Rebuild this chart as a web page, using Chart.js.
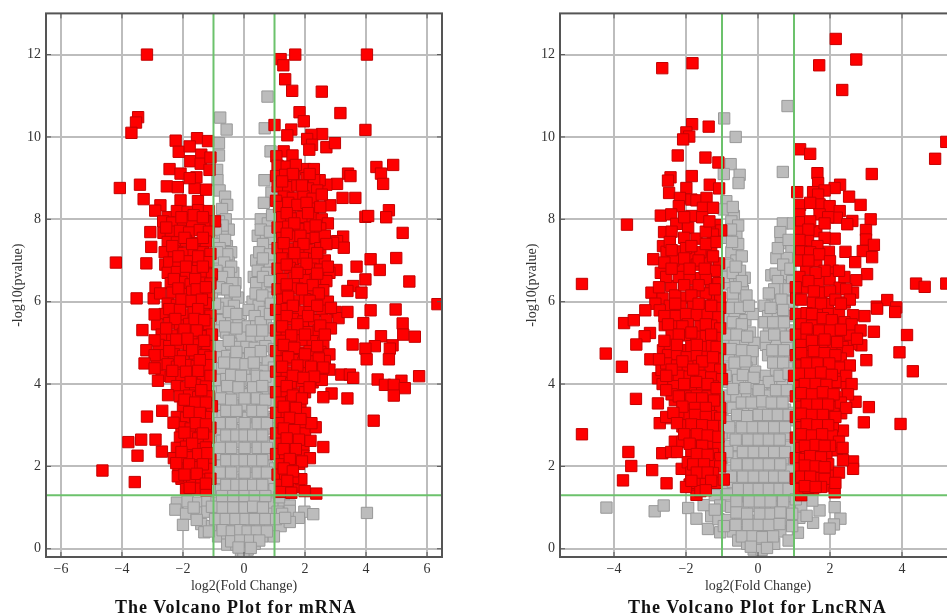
<!DOCTYPE html>
<html>
<head>
<meta charset="utf-8">
<title>Volcano plots</title>
<script src="https://cdn.jsdelivr.net/npm/chart.js@4"></script>
<style>
  html, body { margin: 0; padding: 0; background: #fff; overflow: hidden; width: 947px; height: 616px; }
  .plot { position: absolute; top: 0; width: 460px; height: 616px; }
  #mrnaPlot { left: 0; }
  #lncPlot { left: 514px; }
  .caption { position: absolute; top: 597px; font: bold 18px/20px 'Liberation Serif'; letter-spacing: 1px; color: #111; white-space: nowrap; }
  #mrnaCaption { left: 115px; }
  #lncCaption { left: 628px; }
</style>
</head>
<body>
<div class="plot" id="mrnaPlot"><canvas id="mrnaChart" width="460" height="616"></canvas></div>
<div class="plot" id="lncPlot"><canvas id="lncChart" width="460" height="616"></canvas></div>
<div class="caption" id="mrnaCaption">The Volcano Plot for mRNA</div>
<div class="caption" id="lncCaption">The Volcano Plot for LncRNA</div>
<script>
// tick labels and cut-offs
const mrnaXTicks = [-6, -4, -2, 0, 2, 4, 6];
const lncXTicks = [-4, -2, 0, 2, 4];
const yTicks = [0, 2, 4, 6, 8, 10, 12];
const foldCut = [-1, 1];
const pCut = 1.3;

// values, [log2 fold change, -log10 p]
const mrnaDown = [
[-3.18,12],[-3.47,10.48],[-3.54,10.35],[-3.69,10.1],[-4.07,8.76],[-3.41,8.84],[-3.29,8.49],[-2.74,8.34],[-2.91,8.21],[-3.07,7.69],[-3.04,7.33],[-4.2,6.95],[-3.2,6.93],[-3.52,6.08],[-2.96,6.08],[-2.9,6.34],[-2.58,6.9],[-2.64,7.67],
[-2.24,9.91],[-2.14,9.64],[-1.54,9.97],[-1.18,9.9],[-1.78,9.77],[-2.44,9.22],[-2.08,9.11],[-2.53,8.8],[-2.17,8.78],[-1.62,8.76],[-1.24,8.72],[-2.08,8.46],[-1.51,8.44],[-1.76,9.41],[-1.4,9.57],[-1.42,9.35],[-1.56,9.02],[-1.13,9.2],[-1.78,9.0],[-1.1,9.5],
[-2.5,8.05],[-2.2,8.2],[-1.85,8.18],[-1.5,8.22],[-1.15,8.2],[-0.95,7.95],[-2.65,7.95],[-2.35,7.92],[-2.0,7.98],[-1.7,7.94],[-1.3,7.96],[-2.4,7.7],[-2.1,7.72],[-1.8,7.68],[-1.45,7.74],[-1.15,7.7],
[-2.5,7.45],[-2.2,7.44],[-1.9,7.48],[-1.55,7.42],[-1.25,7.46],[-2.6,7.2],[-2.3,7.22],[-2.0,7.18],[-1.65,7.24],[-1.35,7.2],[-1.1,7.16],[-2.45,6.95],[-2.15,6.92],[-1.8,6.98],[-1.5,6.94],[-1.2,6.96],
[-2.5,6.7],[-2.2,6.72],[-1.9,6.68],[-1.6,6.74],[-1.25,6.7],[-1.05,6.66],[-2.4,6.45],[-2.05,6.48],[-1.75,6.42],[-1.4,6.46],[-1.1,6.44],[-2.75,6.2],[-2.35,6.22],[-2.0,6.18],[-1.7,6.24],[-1.35,6.2],[-1.15,6.16],
[-2.5,5.95],[-2.2,5.92],[-1.9,5.98],[-1.55,5.94],[-1.25,5.96],[-2.6,5.7],[-2.3,5.72],[-1.95,5.68],[-1.65,5.74],[-1.3,5.7],[-1.1,5.66],[-2.85,5.45],[-2.45,5.48],[-2.1,5.42],[-1.8,5.46],[-1.45,5.44],[-1.15,5.46],
[-2.7,5.2],[-2.35,5.18],[-2.0,5.22],[-1.7,5.2],[-1.35,5.16],[-1.05,5.2],[-2.8,4.95],[-2.45,4.92],[-2.15,4.98],[-1.8,4.94],[-1.5,4.96],[-1.2,4.92],[-2.65,4.7],[-2.3,4.72],[-2.0,4.68],[-1.6,4.74],[-1.3,4.7],[-1.1,4.66],
[-2.85,4.45],[-2.5,4.48],[-2.2,4.42],[-1.85,4.46],[-1.55,4.44],[-1.2,4.46],[-2.7,4.2],[-2.4,4.18],[-2.05,4.22],[-1.7,4.2],[-1.35,4.16],[-1.1,4.2],[-2.2,3.95],[-1.9,3.92],[-1.6,3.98],[-1.25,3.94],[-2.1,3.7],[-1.8,3.72],[-1.5,3.68],[-1.15,3.7],
[-2.0,3.45],[-1.7,3.48],[-1.35,3.42],[-1.05,3.46],[-2.2,3.2],[-1.9,3.18],[-1.6,3.22],[-1.25,3.2],[-2.05,2.95],[-1.75,2.92],[-1.4,2.98],[-1.1,2.94],[-2.1,2.7],[-1.8,2.72],[-1.5,2.68],[-1.15,2.7],
[-2.2,2.45],[-1.9,2.48],[-1.55,2.42],[-1.25,2.46],[-2.3,2.2],[-2,2.18],[-1.7,2.22],[-1.35,2.2],[-1.1,2.16],[-2.15,1.95],[-1.85,1.92],[-1.5,1.98],[-1.2,1.94],[-2.05,1.7],[-1.7,1.72],[-1.4,1.68],[-1.1,1.7],[-1.9,1.45],[-1.55,1.46],[-1.25,1.42],
[-3.33,5.31],[-2.93,5.69],[-2.93,5.06],[-3.2,4.82],[-2.93,4.7],[-3.26,4.5],[-2.93,4.38],[-2.82,4.08],[-2.49,3.73],[-2.68,3.35],[-3.18,3.21],[-2.31,3.06],[-3.79,2.59],[-3.37,2.65],[-2.9,2.65],[-2.69,2.36],[-3.49,2.26],[-4.64,1.9],[-3.58,1.62],[-2.22,2.08],[-1.78,1.48],[-2.17,1.76],
[-2.05,8.05],[-1.65,8.1],[-1.35,8.05],[-2.55,7.8],[-1.95,7.55],[-1.35,7.55],[-2.35,7.35],[-1.7,7.4],[-2.15,7.1],[-1.5,7.1],[-1.9,6.85],[-1.35,6.85],[-2.3,6.55],[-1.6,6.55],[-2.15,6.32],[-1.55,6.3],[-1.25,6.35],[-2.05,6.05],[-1.72,6.02],[-1.38,6.05],[-2.45,5.82],[-2.1,5.8],[-1.5,5.82],[-2.25,5.58],[-1.62,5.58],[-1.3,5.55],[-2.55,5.35],[-1.95,5.32],[-1.55,5.3],[-2.22,5.08],[-1.85,5.1],[-1.3,5.05],[-2.45,4.8],[-1.7,4.82],[-2.1,4.55],[-1.45,4.58],[-2.35,4.32],[-1.9,4.3],[-1.5,4.32],[-1.75,4.05],[-1.4,3.85],[-1.95,3.62],[-1.6,3.55],[-1.25,3.55],[-1.8,3.32],[-1.45,3.3],[-1.58,3.05],[-1.25,3.02],[-1.95,2.82],[-1.35,2.8],[-1.7,2.55],[-2.05,2.35],[-1.5,2.3],[-1.2,2.32],[-1.8,2.05],[-1.35,2.05],[-1.95,1.8],[-1.55,1.82],[-1.25,1.58]
];
const mrnaUp = [
[1.2,11.89],[1.29,11.74],[1.68,12],[4.03,12],[1.35,11.4],[1.58,11.12],[2.55,11.1],[1.82,10.6],[1.96,10.38],[3.16,10.58],[1.0,10.29],[1.55,10.18],[1.42,10.04],[3.98,10.17],[2.56,10.07],[2.21,10.05],[2.07,9.95],[2.23,9.81],[2.14,9.69],[2.7,9.75],[2.98,9.85],[1.3,9.65],[1.59,9.55],[1.06,9.53],
[4.34,9.27],[4.89,9.32],[4.49,9.11],[4.56,8.86],[3.41,9.11],[3.49,9.05],[3.05,8.86],[2.7,8.84],[2.48,8.95],[1.99,9.22],[2.29,9.22],[3.23,8.52],[3.65,8.52],[2.83,8.34],[4.75,8.22],[4.66,8.05],[3.98,8.06],[4.07,8.08],[5.2,7.67],[3.25,7.58],[3.05,7.47],[3.27,7.31],[2.92,7.43],[4.15,7.03],[4.99,7.06],[4.45,6.77],[3.69,6.85],[3.03,6.77],[5.42,6.49],[3.98,6.54],[3.58,6.38],[3.39,6.26],[3.85,6.22],[6.34,5.94],
[1.1,9.3],[1.4,9.28],[1.7,9.32],[1.05,9.05],[1.35,9.08],[1.65,9.02],[2.05,9.0],[2.3,8.95],[1.1,8.8],[1.45,8.78],[1.75,8.82],[2.1,8.75],[2.4,8.7],[1.3,8.55],[1.6,8.52],[1.95,8.56],[2.25,8.5],[1.05,8.45],
[1.15,8.3],[1.5,8.28],[1.95,8.3],[2.25,8.26],[1.25,8.05],[1.55,8.02],[1.9,8.06],[2.25,8.04],[2.55,8.0],[2.75,7.9],[1.1,7.8],[1.45,7.82],[1.8,7.76],[2.15,7.8],[2.5,7.78],[1.25,7.55],[1.6,7.58],[2.05,7.52],[2.35,7.55],[2.65,7.6],
[1.1,7.3],[1.45,7.28],[1.8,7.32],[2.15,7.26],[2.5,7.3],[1.25,7.05],[1.6,7.02],[1.95,7.06],[2.3,7.04],[2.65,7.0],[1.1,6.8],[1.5,6.82],[1.85,6.76],[2.2,6.8],[2.5,6.78],[2.8,6.7],[1.25,6.55],[1.65,6.58],[2.0,6.52],[2.35,6.55],[2.7,6.5],
[1.1,6.3],[1.4,6.28],[1.75,6.32],[2.1,6.26],[2.6,6.28],[1.25,6.05],[1.65,6.02],[2.0,6.06],[2.35,6.04],[2.75,6.0],[1.05,5.8],[1.4,5.82],[1.8,5.76],[2.15,5.8],[2.55,5.78],[3.0,5.75],[1.2,5.55],[1.6,5.58],[1.95,5.52],[2.3,5.55],[2.7,5.56],[3.1,5.6],
[1.05,5.3],[1.4,5.28],[1.75,5.32],[2.1,5.26],[2.45,5.3],[2.85,5.35],[1.2,5.05],[1.55,5.02],[1.9,5.06],[2.25,5.04],[2.6,5.0],[1.05,4.8],[1.4,4.82],[1.8,4.76],[2.15,4.8],[2.5,4.78],[2.8,4.72],[1.2,4.55],[1.6,4.58],[1.95,4.52],[2.3,4.55],[2.65,4.56],
[1.05,4.3],[1.4,4.28],[1.75,4.32],[2.1,4.26],[2.45,4.3],[2.8,4.35],[1.2,4.05],[1.55,4.02],[1.9,4.06],[2.25,4.04],[2.55,4.1],[1.05,3.8],[1.4,3.82],[1.75,3.76],[2.0,3.8],[1.2,3.55],[1.55,3.58],[1.85,3.52],[1.05,3.3],[1.4,3.28],[1.7,3.32],[2.0,3.3],
[1.2,3.05],[1.55,3.02],[1.9,3.06],[1.05,2.8],[1.4,2.82],[1.75,2.76],[2.0,2.8],[1.2,2.55],[1.5,2.58],[1.95,2.52],[1.05,2.3],[1.35,2.28],[1.65,2.32],[1.95,2.26],[1.2,2.05],[1.5,2.02],[1.8,2.06],[1.1,1.8],[1.35,1.82],[1.2,1.55],[1.5,1.58],[1.8,1.5],[1.2,1.38],[1.55,1.36],
[4.15,5.79],[4.97,5.81],[3.39,5.75],[3.91,5.48],[5.2,5.47],[5.22,5.2],[5.6,5.15],[4.49,5.16],[4.87,4.94],[4.29,4.92],[4.78,4.86],[3.56,4.96],[3.98,4.86],[4.02,4.6],[4.75,4.6],[3.19,4.23],[3.47,4.23],[3.58,4.15],[5.74,4.19],[4.38,4.11],[5.16,4.08],[4.62,3.98],[4.91,3.98],[5.27,3.9],[4.91,3.72],[2.87,3.77],[2.6,3.68],[3.39,3.65],[4.25,3.11],[2.6,2.47],[2.35,2.95],[2.21,3.05],[2.18,2.62],[2.16,2.2],[2.37,1.34],[1.99,1.4],[1.88,1.69],[1.61,1.72],
[1.6,9.1],[2.15,9.1],[1.25,8.92],[1.9,8.82],[2.55,8.6],[1.45,8.4],[1.75,8.35],[2.05,8.4],[2.5,8.3],[1.4,8.15],[2.1,8.15],[1.65,7.9],[2.35,7.85],[1.4,7.65],[1.85,7.6],[2.7,7.4],[1.3,7.42],[1.95,7.4],[1.65,7.18],[2.4,7.18],[1.4,6.9],[2.05,6.92],[2.75,6.85],[1.75,6.7],[2.4,6.68],[1.4,6.42],[2.25,6.4],[1.9,6.3],[2.45,6.2],[1.45,6.12],[2.15,6.02],[1.6,5.9],[2.4,5.9],[2.85,5.85],[1.4,5.65],[2.1,5.65],[1.75,5.45],[2.5,5.42],[1.25,5.4],[2.0,5.2],[2.65,5.2],[1.55,5.18],[1.3,4.95],[2.4,4.92],[1.65,4.88],[2.0,4.72],[1.45,4.65],[2.45,4.62],[1.75,4.45],[2.2,4.42],[1.25,4.42],[2.6,4.4],[1.6,4.2],[2.3,4.18],[1.95,4.15],[1.4,3.95],[2.15,3.92],[1.6,3.72],[1.9,3.65],[1.3,3.45],[1.7,3.42],[1.5,3.18],[1.85,3.15],[1.3,2.92],[1.65,2.88],[1.4,2.68],[1.8,2.65],[1.3,2.42],[1.7,2.42],[1.5,2.18],[1.9,2.12],[1.3,1.95],[1.6,1.88],[1.42,1.65]
];
const mrnaFlat = [
[-0.78,10.47],[-0.57,10.18],[-0.82,9.85],[-0.82,9.55],[-0.88,9.2],[-0.87,8.95],[-0.8,8.7],[-0.62,8.55],[-0.55,8.35],[-0.72,8.25],[0.77,10.98],[0.68,10.21],[0.87,9.65],[0.67,8.95],[0.9,8.65],[0.65,8.4],[0.55,8.0],[0.78,7.9],[0.92,8.1],
[-0.6,8.0],[-0.82,7.95],[-0.5,7.75],[-1.05,7.65],[-0.7,7.6],[-0.56,7.35],[-0.9,7.4],[-0.42,7.2],[-0.75,7.1],[-1.0,7.0],[-0.5,6.95],[-0.8,6.8],[-0.35,6.7],[-0.58,6.55],[-0.92,6.5],[-0.28,6.45],[-0.72,6.3],[-0.45,6.2],[-1.05,6.15],[-0.2,6.1],[-0.6,5.95],[-0.85,5.85],[-0.33,5.9],[-0.1,5.7],
[0.45,7.6],[0.72,7.55],[0.95,7.45],[0.75,7.25],[0.4,7.0],[0.6,6.85],[0.85,6.95],[0.98,6.7],[0.32,6.6],[0.52,6.35],[0.72,6.4],[0.9,6.2],[0.75,6.1],[0.28,6.0],[0.48,5.9],[0.96,5.85],[0.65,5.75],[0.15,5.8],[0.35,5.65],
[-1.05,5.55],[-0.72,5.55],[-0.42,5.5],[-0.18,5.45],[-0.88,5.3],[-0.58,5.25],[-0.3,5.2],[-0.08,5.15],[0.12,5.4],[0.4,5.4],[0.72,5.45],[0.98,5.35],[0.25,5.15],[0.55,5.18],[0.85,5.1],
[-1.05,4.95],[-0.75,4.92],[-0.42,4.98],[-0.15,4.9],[0.08,4.9],[0.35,4.88],[0.7,4.92],[0.98,4.85],[-0.9,4.65],[-0.55,4.68],[-0.28,4.62],[-0.05,4.6],[0.2,4.62],[0.5,4.65],[0.78,4.55],[-1.08,4.4],[-0.72,4.38],[-0.4,4.42],[-0.15,4.35],[0.1,4.35],[0.38,4.38],[0.68,4.32],[0.98,4.4],
[-0.9,4.1],[-0.58,4.12],[-0.25,4.08],[0.0,4.05],[0.25,4.1],[0.55,4.02],[0.85,4.08],[-1.05,3.8],[-0.72,3.82],[-0.42,3.78],[-0.12,3.8],[0.14,3.75],[0.42,3.82],[0.72,3.78],[1.0,3.8],[-0.88,3.5],[-0.58,3.52],[-0.3,3.48],[0.0,3.5],[0.28,3.52],[0.58,3.48],[0.85,3.55],
[-1.05,3.2],[-0.7,3.22],[-0.4,3.18],[-0.12,3.2],[0.14,3.18],[0.42,3.22],[0.72,3.2],[1.0,3.15],[-0.9,2.9],[-0.58,2.92],[-0.28,2.88],[0.02,2.9],[0.3,2.92],[0.6,2.88],[0.88,2.92],[-1.05,2.6],[-0.72,2.62],[-0.42,2.58],[-0.12,2.6],[0.14,2.58],[0.45,2.62],[0.75,2.58],[1.02,2.6],
[-0.9,2.3],[-0.58,2.32],[-0.28,2.28],[0.02,2.3],[0.3,2.32],[0.6,2.28],[0.9,2.3],[-1.05,2.0],[-0.72,2.02],[-0.42,1.98],[-0.12,2.0],[0.14,1.98],[0.45,2.02],[0.75,2.0],[1.02,1.95],[-0.9,1.72],[-0.58,1.72],[-0.28,1.68],[0.02,1.7],[0.3,1.72],[0.6,1.68],[0.88,1.7],
[-1.1,1.45],[-0.75,1.42],[-0.42,1.45],[-0.12,1.4],[0.14,1.42],[0.45,1.45],[0.75,1.4],[1.0,1.45],[-2.2,1.12],[-1.85,1.15],[-1.5,1.12],[-1.2,1.15],[-0.9,1.12],[-0.55,1.15],[-0.25,1.1],[0.05,1.15],[0.35,1.12],[0.65,1.15],[0.95,1.1],[1.3,1.1],[1.5,1.05],
[-2.25,0.95],[-1.9,0.85],[-1.55,0.88],[-1.2,0.9],[-0.85,0.88],[-0.5,0.9],[-0.18,0.85],[0.12,0.88],[0.45,0.9],[0.8,0.85],[1.1,0.9],[1.5,0.92],[1.98,0.9],[2.27,0.84],[1.8,0.75],[4.03,0.87],
[-2.0,0.58],[-1.4,0.6],[-1.3,0.4],[-1.05,0.55],[-0.72,0.6],[-0.45,0.52],[-0.1,0.6],[0.2,0.55],[0.52,0.58],[0.85,0.55],[1.2,0.55],[1.5,0.65],[-0.85,0.3],[-0.55,0.3],[-0.3,0.25],[-0.02,0.35],[0.28,0.28],[0.6,0.3],[0.98,0.3],
[-0.55,0.1],[-0.25,0.1],[0.05,0.15],[0.35,0.12],[-0.1,-0.05],[0.12,-0.02],[-0.02,-0.1],
[-0.7,7.85],[-0.92,7.75],[-0.62,7.5],[-0.8,7.3],[-0.55,7.15],[-0.88,7.2],[-0.65,6.95],[-0.42,6.85],[-0.9,6.75],[-0.5,6.7],[-0.72,6.6],[-0.38,6.45],[-0.82,6.35],[-0.55,6.3],[-0.3,6.25],[-0.95,5.95],[-0.5,5.75],[-0.25,5.7],
[0.55,7.75],[0.85,7.7],[0.62,7.4],[0.5,7.2],[0.85,7.15],[0.62,7.05],[0.45,6.75],[0.75,6.7],[0.4,6.45],[0.62,6.6],[0.85,6.5],[0.38,6.2],[0.6,6.15],[0.88,5.95],[0.55,5.5],[0.85,5.7],
[-0.62,5.4],[-0.25,5.35],[0.25,5.3],[0.6,5.3],[-0.5,5.05],[-0.25,4.78],[0.2,4.75],[0.55,4.8],[-0.65,4.52],[-0.28,4.5],[0.05,4.48],[0.32,4.52],[-0.42,4.22],[-0.1,4.2],[0.42,4.2],[0.7,4.18],[-0.55,3.95],[-0.18,3.92],[0.3,3.92],[0.6,3.95],[-0.75,3.65],[-0.42,3.62],[0.02,3.65],[0.42,3.65],[0.7,3.62],[-0.58,3.35],[-0.25,3.35],[0.28,3.35],[0.6,3.35],[-0.8,3.05],[-0.42,3.05],[0.02,3.05],[0.45,3.05],[0.75,3.05],[-0.58,2.75],[-0.25,2.75],[0.02,2.75],[0.3,2.75],[0.6,2.75],
[-0.8,2.45],[-0.42,2.45],[0.02,2.45],[0.45,2.45],[0.75,2.45],[-0.58,2.15],[-0.25,2.15],[0.02,2.15],[0.3,2.15],[0.6,2.15],[-0.8,1.85],[-0.42,1.85],[0.02,1.85],[0.45,1.85],[0.75,1.85],[-0.58,1.55],[-0.25,1.55],[0.02,1.55],[0.3,1.55],[0.6,1.55],[-1.65,1.0],[-1.05,1.02],[-0.72,1.28],[-0.35,1.28],[0.02,1.28],[0.35,1.28],[0.7,1.28],[1.15,1.25],[-0.7,1.0],[-0.35,1.0],[0.02,1.0],[0.3,1.02],[0.62,1.0],[1.25,0.85],[-1.55,0.7],[-0.95,0.72],[-0.6,0.72],[-0.28,0.72],[0.05,0.72],[0.35,0.72],[0.7,0.72],[1.05,0.72],[1.35,0.75],[-1.15,0.42],[-0.7,0.45],[-0.4,0.42],[-0.12,0.45],[0.12,0.42],[0.42,0.42],[0.75,0.42],[-0.42,0.18],[-0.12,0.2],[0.2,0.2],[0.5,0.2],[-0.18,0.03],[0.22,0.02]
];

const lncDown = [
[-4.89,6.43],[-3.64,7.87],[-2.66,11.67],[-1.82,11.79],[-1.83,10.31],[-1.37,10.25],[-1.99,10.11],[-1.91,10.01],[-2.08,9.94],[-2.23,9.55],[-1.46,9.5],[-1.1,9.38],[-2.43,9.02],[-2.5,8.94],[-1.84,9.05],[-1.99,8.76],[-1.34,8.84],[-1.08,8.75],[-2.47,8.64],[-2.17,8.52],[-2.2,8.32],[-1.85,8.48],[-1.71,8.46],[-1.43,8.52],[-1.53,8.28],[-1.25,8.28],[-2.7,8.09],[-2.41,8.12],[-1.85,8.08],[-2.27,7.89],[-1.16,7.86],[-1.02,7.73],[-1.94,7.79],[-2.61,7.69],[-1.25,7.63],[-1.71,7.53],[-2.64,7.35],[-2.54,7.21],[-2.22,7.22],[-1.3,7.29],[-2.91,7.03],[-1.9,7.07],[-1.43,7],[-1.08,6.93],[-2.17,6.83],[-2.7,6.7],[-1.65,6.57],[-1.3,6.42],[-2.41,6.38],[-2.96,6.22],[-2.65,6.08],[-2.04,6.1],[-1.25,6.02],
[-2.4,7.7],[-2.05,7.55],[-1.45,7.7],[-2.45,7.45],[-2.0,7.3],[-1.6,7.2],[-2.35,7.0],[-2.6,6.95],[-1.7,6.9],[-1.2,6.75],[-2.55,6.6],[-2.2,6.6],[-1.9,6.55],[-1.45,6.55],[-1.1,6.45],[-2.75,6.35],[-1.75,6.25],[-1.45,6.2],[-2.3,6.15],[-1.05,6.1],[-2.85,5.95],[-2.45,5.9],[-2.15,5.88],[-1.8,5.92],[-1.5,5.9],[-1.05,5.85],
[-3.13,5.79],[-3.72,5.48],[-3.45,5.55],[-3.0,5.24],[-3.15,5.16],[-3.38,4.96],[-4.23,4.74],[-3.78,4.42],[-2.99,4.6],[-2.64,4.82],[-2.73,5.79],[-2.59,5.43],[-2.29,5.06],[-2.08,4.82],[-2.78,4.14],[-2.68,4.34],[-2.45,4.1],[-2.13,3.85],[-2.31,3.61],[-3.39,3.64],[-2.78,3.53],[-2.45,3.17],[-2.73,3.05],[-2.1,2.97],[-2.31,2.6],[-2.66,2.32],[-2.41,2.35],[-3.6,2.35],[-3.52,2.01],[-2.94,1.91],[-2.12,1.94],[-3.75,1.66],[-2.54,1.59],[-4.89,2.78],[-1.71,1.31],[-1.9,1.56],
[-2.3,5.65],[-2.0,5.7],[-1.7,5.68],[-1.4,5.7],[-1.1,5.62],[-2.25,5.4],[-1.95,5.45],[-1.6,5.4],[-1.3,5.42],[-1.05,5.35],[-2.4,5.2],[-2.0,5.18],[-1.72,5.15],[-1.45,5.16],[-1.15,5.12],[-2.45,4.95],[-1.85,4.92],[-1.55,4.9],[-1.28,4.92],[-1.05,4.85],[-2.5,4.7],[-2.25,4.72],[-1.98,4.65],[-1.7,4.68],[-1.4,4.66],[-1.12,4.6],
[-2.55,4.5],[-2.25,4.45],[-1.95,4.42],[-1.65,4.44],[-1.32,4.42],[-1.05,4.35],[-2.2,4.2],[-1.9,4.18],[-1.6,4.2],[-1.3,4.16],[-1.0,4.12],[-2.65,4.0],[-2.35,3.95],[-1.85,3.95],[-1.55,3.92],[-1.25,3.94],[-2.4,3.75],[-2.0,3.7],[-1.7,3.72],[-1.4,3.7],[-1.1,3.68],[-1.9,3.48],[-1.6,3.45],[-1.3,3.48],[-1.05,3.42],
[-2.2,3.25],[-1.9,3.22],[-1.6,3.2],[-1.3,3.22],[-1.05,3.18],[-2.55,3.2],[-2.0,3.0],[-1.7,2.98],[-1.4,2.96],[-1.12,2.98],[-1.85,2.75],[-1.55,2.74],[-1.25,2.72],[-2.1,2.6],[-1.7,2.5],[-1.4,2.52],[-1.1,2.48],[-1.85,2.3],[-1.55,2.28],[-1.25,2.3],[-1.05,2.2],[-1.95,2.1],[-1.65,2.05],[-1.35,2.06],[-1.05,2.0],[-1.85,1.85],[-1.55,1.82],[-1.25,1.84],[-1.75,1.6],[-1.45,1.58],[-1.15,1.6],[-0.95,1.68],[-2.0,1.5],[-1.6,1.4],
[-1.55,8.05],[-2.05,8.05],[-1.35,7.95],[-2.4,7.25],[-1.85,7.35],[-1.45,7.4],[-1.15,7.45],[-2.05,7.05],[-1.65,7.0],[-1.25,7.1],[-2.4,6.8],[-1.9,6.8],[-1.48,6.8],[-2.05,6.4],[-1.65,6.4],[-1.85,6.15],[-1.2,6.3],[-2.6,5.65],[-2.3,5.95],[-1.65,5.95],[-1.3,5.9],[-2.5,5.45],[-2.1,5.4],[-1.45,5.45],[-2.2,5.2],[-1.85,5.25],[-1.3,5.2],[-2.6,5.05],[-2.25,4.95],[-1.7,4.95],[-1.15,4.9],[-2.75,4.6],[-2.1,4.55],[-1.55,4.55],[-1.25,4.65],[-2.4,4.35],[-1.8,4.35],[-2.55,4.2],[-2.05,4.0],[-1.72,4.05],[-1.4,4.0],[-1.15,3.9],[-2.55,3.85],[-2.2,3.7],[-1.85,3.65],[-1.55,3.65],[-1.22,3.6],[-2.1,3.45],[-1.75,3.42],[-1.45,3.42],[-2.35,3.3],[-1.75,3.25],[-1.45,3.2],[-2.25,3.05],[-1.85,3.02],[-1.55,3.0],[-1.25,2.98],[-2.05,2.78],[-1.7,2.78],[-1.4,2.75],[-1.1,2.72],[-1.9,2.55],[-1.55,2.5],[-2.25,2.35],[-1.7,2.3],[-1.4,2.28],[-1.8,2.05],[-1.5,2.05],[-1.7,1.85],[-1.4,1.85],[-1.85,1.65],[-1.3,1.65],[-1.45,1.42]
];
const lncUp = [
[2.16,12.38],[2.73,11.88],[1.7,11.74],[2.34,11.14],[1.17,9.7],[1.45,9.59],[1.65,9.12],[3.16,9.1],[1.67,8.88],[2.28,8.84],[2.13,8.76],[1.85,8.7],[1.09,8.66],[1.53,8.66],[1.67,8.6],[2.53,8.55],[2.85,8.35],[1.17,8.35],[1.71,8.36],[1.99,8.32],[2.27,8.2],[1.15,8.12],[1.71,8.12],[2.19,8.04],[3.13,8],[2.62,7.96],[2.48,7.88],[1.2,7.93],[3,7.74],[1.62,7.71],[3,7.51],[2.13,7.53],[1.39,7.49],[3.22,7.38],[2.91,7.23],[2.43,7.21],[1.97,7.21],[1.2,7.22],[1.62,6.99],[3.17,7.08],[2.7,6.96],[1.34,6.79],[2.08,6.75],[3.03,6.67],[2.73,6.52],[1.99,6.54],[1.67,6.49],[1.3,6.34],[1.76,6.22],[2.64,6.22],[2.27,6.34],[2.41,5.98],[1.53,5.98],[1.94,5.94],[1.06,6.1],
[1.45,8.4],[1.95,8.05],[1.45,7.95],[1.85,7.9],[1.15,7.7],[1.4,7.75],[1.85,7.55],[1.15,7.5],[1.65,7.35],[1.45,7.2],[1.7,7.15],[2.0,6.98],[1.15,7.0],[1.4,7.0],[1.85,6.75],[1.6,6.7],[2.4,6.6],[1.15,6.6],[1.4,6.5],[2.45,6.3],[1.05,6.35],[2.0,6.25],[1.55,6.25],[1.2,6.05],[2.15,6.05],[1.75,5.95],
[3.3,5.88],[3.59,6.04],[3.84,5.86],[4.92,9.47],[5.23,9.88],[4.39,6.44],[4.63,6.36],[5.23,6.44],
[3.22,5.27],[3.81,5.75],[4.14,5.19],[3.31,5.83],[2.96,5.65],[2.64,5.67],[2.87,4.94],[2.59,4.97],[3.93,4.77],[3.01,4.58],[4.3,4.31],[2.41,4.26],[2.47,3.98],[2.22,3.69],[2.71,3.57],[3.08,3.44],[2.31,3.29],[2.94,3.07],[3.96,3.03],[2.36,2.87],[2.08,2.97],[2.19,2.39],[2.64,2.12],[2.64,1.94],[2.36,2.15],[2.08,1.8],[1.9,2.28],[1.94,1.52],[2.13,1.37],[1.2,1.3],[1.53,1.44],
[1.05,5.7],[1.35,5.72],[1.65,5.68],[1.95,5.7],[2.25,5.72],[1.2,5.45],[1.5,5.42],[1.8,5.46],[2.1,5.44],[2.4,5.5],[1.05,5.2],[1.35,5.18],[1.65,5.22],[1.95,5.2],[2.25,5.16],[2.55,5.2],[1.2,4.95],[1.5,4.92],[1.8,4.96],[2.1,4.94],[2.35,4.9],[1.05,4.7],[1.35,4.68],[1.65,4.72],[1.95,4.7],[1.2,4.45],[1.5,4.42],[1.8,4.46],[2.1,4.44],
[1.0,4.2],[1.3,4.18],[1.6,4.22],[1.9,4.2],[2.2,4.16],[1.15,3.95],[1.45,3.92],[1.75,3.96],[2.05,3.94],[2.35,4.02],[1.05,3.7],[1.35,3.68],[1.65,3.72],[1.95,3.7],[1.2,3.45],[1.5,3.42],[1.8,3.46],[2.1,3.44],[1.05,3.2],[1.35,3.18],[1.65,3.22],[1.95,3.2],
[1.2,2.95],[1.5,2.92],[1.8,2.96],[1.05,2.7],[1.35,2.68],[1.65,2.72],[1.9,2.7],[1.2,2.45],[1.45,2.42],[1.7,2.46],[1.05,2.2],[1.3,2.18],[1.6,2.22],[1.15,1.95],[1.45,1.92],[1.75,1.96],[1.05,1.7],[1.3,1.68],[1.6,1.72],[1.85,1.7],[1.15,1.45],[1.4,1.48],[1.75,1.5],
[2.25,6.75],[2.55,6.05],[2.3,5.95],[2.6,5.45],[2.85,5.3],[2.75,5.1],[2.5,4.8],[2.3,4.62],[2.55,4.45],[2.25,4.4],[2.45,4.2],[2.15,4.05],[2.6,4.0],[2.5,3.75],[2.3,3.55],[2.45,3.42],[2.15,3.2],[2.05,2.75],[2.25,2.6],[2.35,2.45],[2.0,2.5],[1.95,2.05],[2.25,1.85],[2.15,1.6],
[1.5,5.7],[1.8,5.6],[2.05,5.55],[1.35,5.35],[1.7,5.3],[2.0,5.3],[2.3,5.32],[1.5,5.05],[1.85,5.08],[2.2,5.02],[1.2,4.75],[1.55,4.8],[1.85,4.75],[2.15,4.7],[1.35,4.5],[1.65,4.5],[1.98,4.5],[1.15,4.25],[1.45,4.25],[1.75,4.28],[2.05,4.22],[1.3,4.0],[1.6,4.0],[1.9,3.98],[1.2,3.78],[1.5,3.75],[1.8,3.8],[2.1,3.75],[1.35,3.5],[1.65,3.5],[1.95,3.5],[1.2,3.28],[1.5,3.25],[1.8,3.25],[1.35,3.02],[1.65,3.0],[1.95,3.0],[1.2,2.78],[1.5,2.75],[1.78,2.78],[1.3,2.5],[1.6,2.52],[1.85,2.5],[1.45,2.25],[1.75,2.22],[1.3,2.02],[1.6,2.0],[1.85,1.98],[1.2,1.75],[1.45,1.75],[1.3,1.52],[1.6,1.5]
];
const lncFlat = [
[0.82,10.75],[-0.94,10.45],[-0.62,10],[0.69,9.15],[-0.76,9.34],[-0.95,9.1],[-0.51,9.08],[-0.54,8.88],[-0.88,8.44],[-0.95,8.24],[-0.67,8.08],[-0.74,7.95],[-0.6,7.65],[-0.88,7.55],[0.69,7.9],[0.62,7.69],[0.63,7.42],[0.97,7.9],[0.93,7.31],[-0.74,7.2],[-0.6,7],[0.51,7.06],[0.8,7.06],[-0.37,6.58],[-0.58,6.5],[-0.83,6.42],[0.37,6.64],[0.49,6.68],[0.79,6.66],[-0.42,6.27],[0.4,6.08],[0.79,6.2],[-0.46,6.05],[0.18,5.9],[-0.88,5.85],[-0.69,5.94],
[-0.85,6.9],[-0.5,6.75],[-0.95,6.6],[-0.7,6.7],[-0.7,6.2],[0.6,6.4],[0.55,5.95],[0.95,6.5],[0.95,6.0],
[-0.95,5.6],[-0.65,5.65],[-0.35,5.55],[-0.15,5.7],[0.28,5.65],[0.55,5.6],[0.85,5.65],[-0.8,5.35],[-0.5,5.3],[-0.22,5.25],[0.3,5.3],[0.6,5.35],[0.95,5.3],[-0.95,5.0],[-0.65,5.05],[-0.35,4.95],[-0.1,5.0],[0.22,4.95],[0.5,5.0],[0.8,4.98],
[-0.8,4.7],[-0.5,4.65],[-0.2,4.6],[0.28,4.7],[0.6,4.65],[0.9,4.7],[-0.95,4.4],[-0.65,4.35],[-0.32,4.4],[-0.08,4.3],[0.22,4.2],[0.5,4.35],[0.8,4.4],[-0.8,4.05],[-0.55,4.1],[-0.2,4.0],[0.12,3.95],[0.4,4.02],[0.68,4.08],[0.98,4.0],
[-0.9,3.72],[-0.6,3.7],[-0.3,3.75],[-0.05,3.6],[0.25,3.72],[0.55,3.7],[0.85,3.72],[-0.98,3.4],[-0.7,3.42],[-0.4,3.38],[-0.1,3.35],[0.15,3.38],[0.45,3.4],[0.75,3.38],[1.0,3.3],[-0.85,3.1],[-0.55,3.12],[-0.25,3.08],[0.02,3.1],[0.3,3.12],[0.6,3.08],[0.9,3.12],
[-1.0,2.8],[-0.7,2.82],[-0.4,2.78],[-0.12,2.8],[0.16,2.78],[0.45,2.82],[0.75,2.78],[-0.85,2.5],[-0.55,2.52],[-0.28,2.48],[0.02,2.5],[0.3,2.52],[0.6,2.5],[0.9,2.48],[-1.0,2.2],[-0.7,2.22],[-0.4,2.18],[-0.12,2.2],[0.16,2.18],[0.45,2.22],[0.75,2.2],[1.0,2.15],
[-0.85,1.9],[-0.55,1.92],[-0.28,1.88],[0.02,1.9],[0.3,1.92],[0.6,1.88],[0.9,1.9],[-0.95,1.6],[-0.7,1.62],[-0.4,1.58],[-0.12,1.6],[0.16,1.58],[0.45,1.62],[0.75,1.6],[0.98,1.5],
[-1.2,1.3],[-0.85,1.32],[-0.55,1.28],[-0.28,1.3],[0.02,1.32],[0.3,1.28],[0.6,1.3],[0.9,1.28],
[-4.21,1],[-2.87,0.91],[-2.62,1.05],[-1.94,0.99],[-1.71,0.73],[-1.39,0.48],[-1.3,0.79],[-1.51,1.06],[2.13,1.01],[2.29,0.73],[2.11,0.59],[1.99,0.49],[1.71,0.93],[1.53,0.63],[1.51,1.17],[1.11,0.39],
[-1.05,1.05],[-0.75,1.02],[-0.4,1.0],[-0.1,1.04],[0.2,1.0],[0.5,1.02],[0.85,1.0],[1.2,1.05],[-1.1,0.72],[-0.85,0.7],[-0.5,0.72],[-0.2,0.68],[0.1,0.72],[0.45,0.7],[0.75,0.7],[1.15,0.75],[-1.05,0.4],[-0.7,0.42],[-0.35,0.4],[-0.05,0.42],[0.3,0.38],[0.62,0.42],[0.85,0.2],
[-0.55,0.2],[-0.3,0.12],[-0.05,0.15],[0.2,0.1],[0.45,0.12],[-0.12,-0.02],[0.02,0.05],[0.1,-0.03],
[-0.7,8.3],[-0.55,7.85],[-0.75,7.75],[-0.55,7.4],[-0.72,7.45],[-0.45,7.1],[-0.62,6.85],[-0.45,6.5],[-0.62,6.35],[-0.32,6.15],[0.55,7.3],[0.85,7.5],[0.7,6.9],[0.9,6.8],[0.55,6.5],[0.72,6.3],[0.45,6.3],[0.3,6.2],[0.85,6.3],[0.65,6.05],
[-0.8,5.85],[-0.5,5.85],[-0.25,5.9],[0.35,5.85],[0.7,5.8],[-0.7,5.5],[-0.45,5.45],[0.18,5.5],[0.42,5.5],[0.72,5.5],[-0.85,5.2],[-0.6,5.2],[-0.3,5.15],[0.22,5.15],[0.45,5.2],[0.78,5.15],[-0.75,4.85],[-0.45,4.82],[-0.15,4.8],[0.4,4.82],[0.72,4.82],[-0.65,4.52],[-0.35,4.55],[0.42,4.52],[0.7,4.52],[-0.9,4.2],[-0.42,4.22],[-0.12,4.15],[0.3,4.05],[0.6,4.2],[0.85,4.25],[-0.7,3.88],[-0.35,3.9],[0.02,3.85],[0.5,3.85],[0.8,3.85],[-0.45,3.55],[-0.18,3.55],[0.12,3.58],[0.38,3.55],[0.68,3.55],[-0.58,3.25],[-0.3,3.22],[0.02,3.25],[0.28,3.25],[0.55,3.25],[0.85,3.25],[-0.8,2.95],[-0.45,2.95],[-0.15,2.95],[0.15,2.95],[0.45,2.95],[0.75,2.95],[-0.62,2.65],[-0.28,2.65],[0.02,2.65],[0.3,2.65],[0.6,2.65],[-0.85,2.35],[-0.42,2.35],[-0.12,2.35],[0.18,2.35],[0.45,2.35],[0.75,2.35],[-0.6,2.05],[-0.28,2.05],[0.02,2.05],[0.3,2.05],[0.62,2.05],[-0.75,1.75],[-0.42,1.75],[-0.12,1.75],[0.18,1.75],[0.45,1.75],[0.72,1.75],[-0.55,1.45],[-0.25,1.45],[0.02,1.45],[0.3,1.45],[0.6,1.45],[0.85,1.45],[-0.6,1.15],[-0.25,1.15],[0.05,1.15],[0.35,1.15],[0.7,1.15],[1.05,1.2],[-1.2,0.95],[-0.6,0.88],[-0.3,0.85],[0.05,0.85],[0.35,0.85],[0.62,0.88],[0.95,0.85],[1.35,0.8],[-0.95,0.55],[-0.62,0.58],[-0.28,0.58],[0.02,0.58],[0.3,0.58],[0.6,0.6],[0.95,0.55],[-0.45,0.3],[-0.15,0.3],[0.12,0.28],[0.42,0.3],[-0.2,0.05],[0.25,0.02]
];

// frame round the plot with the short inward ticks
const framePlugin = {
  id: 'frame',
  afterDraw(chart) {
    const { ctx, chartArea: a, scales } = chart;
    ctx.save();
    ctx.strokeStyle = '#555';
    ctx.lineWidth = 2;
    ctx.strokeRect(a.left, a.top, a.right - a.left, a.bottom - a.top);
    ctx.lineWidth = 1;
    ctx.beginPath();
    scales.x.ticks.forEach(t => {
      const x = scales.x.getPixelForValue(t.value);
      ctx.moveTo(x, a.bottom); ctx.lineTo(x, a.bottom - 5);
      ctx.moveTo(x, a.top); ctx.lineTo(x, a.top + 5);
    });
    scales.y.ticks.forEach(t => {
      const y = scales.y.getPixelForValue(t.value);
      ctx.moveTo(a.left, y); ctx.lineTo(a.left + 5, y);
      ctx.moveTo(a.right, y); ctx.lineTo(a.right - 5, y);
    });
    ctx.stroke();
    ctx.restore();
  }
};

function pointsOf(list) {
  return list.map(p => ({ x: p[0], y: p[1] }));
}

function squares(list, fill, edge) {
  return {
    data: pointsOf(list),
    pointStyle: 'rect',
    pointRadius: 8,
    pointBorderWidth: 1,
    pointBackgroundColor: fill,
    pointBorderColor: edge,
    showLine: false
  };
}

function cutLine(pts) {
  return { data: pts, showLine: true, pointRadius: 0, borderColor: '#6cc26c', borderWidth: 2 };
}

function volcano(id, xLimit, xTicks, down, up, flat) {
  const yMin = -0.2, yMax = 13;
  const axisFont = { family: 'Liberation Serif', size: 14 };
  new Chart(document.getElementById(id), {
    type: 'scatter',
    data: {
      datasets: [
        cutLine([{ x: foldCut[0], y: yMin }, { x: foldCut[0], y: yMax }]),
        cutLine([{ x: foldCut[1], y: yMin }, { x: foldCut[1], y: yMax }]),
        cutLine([{ x: -xLimit, y: pCut }, { x: xLimit, y: pCut }]),
        squares(up, '#fe0000', '#c40000'),
        squares(down, '#fe0000', '#c40000'),
        squares(flat, '#bcbcbc', '#989898')
      ]
    },
    plugins: [framePlugin],
    options: {
      responsive: false,
      animation: false,
      layout: { padding: { top: 12, right: 18, bottom: 21, left: 0 } },
      plugins: {
        legend: { display: false },
        tooltip: { enabled: false }
      },
      scales: {
        x: {
          type: 'linear',
          min: -xLimit,
          max: xLimit,
          afterBuildTicks: s => { s.ticks = xTicks.map(v => ({ value: v })); },
          afterFit: s => { s.height = 38; },
          grid: { color: '#bdbdbd', lineWidth: 2, drawTicks: false },
          border: { display: false },
          ticks: {
            color: '#333',
            font: axisFont,
            padding: 4,
            maxRotation: 0,
            callback: v => String(v).replace('-', '\u2212')
          },
          title: { display: true, text: 'log2(Fold Change)', color: '#333', font: { family: 'Liberation Serif', size: 14 }, padding: { top: 2, bottom: 0 } }
        },
        y: {
          min: yMin,
          max: yMax,
          afterBuildTicks: s => { s.ticks = yTicks.map(v => ({ value: v })); },
          afterFit: s => { s.width = 46; },
          grid: { color: '#bdbdbd', lineWidth: 2, drawTicks: false },
          border: { display: false },
          ticks: { color: '#333', font: axisFont, padding: 5 },
          title: { display: true, text: '-log10(pvalue)', color: '#333', font: { family: 'Liberation Serif', size: 14 }, padding: { top: 10, bottom: 0 } }
        }
      }
    }
  });
}

volcano('mrnaChart', 6.49, mrnaXTicks, mrnaDown, mrnaUp, mrnaFlat);
volcano('lncChart', 5.5, lncXTicks, lncDown, lncUp, lncFlat);
</script>
</body>
</html>
